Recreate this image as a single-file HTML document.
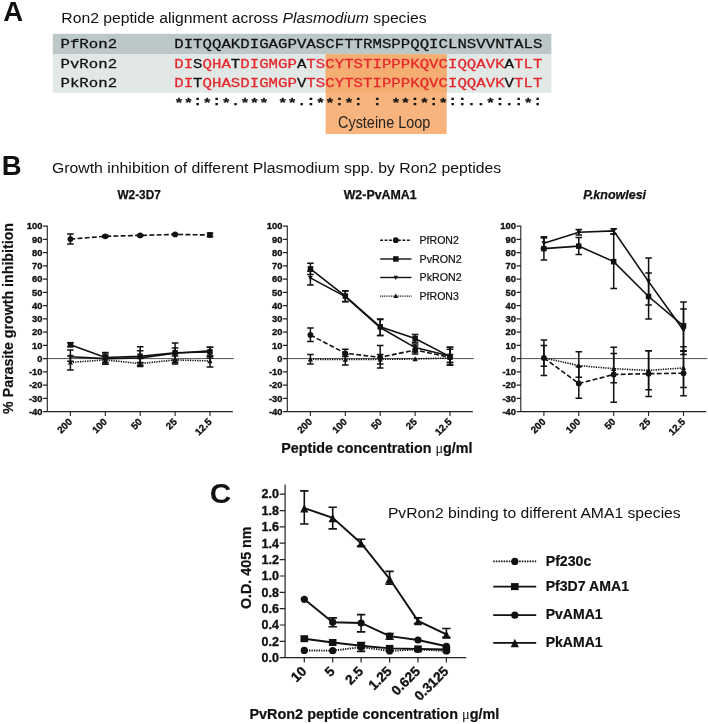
<!DOCTYPE html>
<html lang="en">
<head>
<meta charset="utf-8">
<title>Ron2 peptide figure</title>
<style>
html,body{margin:0;padding:0;background:#fff;}
body{width:708px;height:724px;overflow:hidden;}
svg{display:block;}
text{font-family:"Liberation Sans",Arial,Helvetica,sans-serif;fill:#111;}
.pl{font-size:27.5px;font-weight:bold;}
.ti{font-size:15.5px;}
.tc{font-size:15.4px;}
.mono{font-family:"Liberation Mono","Courier New",monospace;font-size:15.73px;stroke-width:0.3px;}
.cons{font-weight:bold;}
.cl{font-size:14.6px;fill:#222;}
.tk{font-size:9.4px;font-weight:bold;stroke:#111;stroke-width:0.35px;}
.tkc{font-size:12.5px;font-weight:bold;stroke:#111;stroke-width:0.35px;}
.ct{font-size:12.2px;font-weight:bold;stroke:#111;stroke-width:0.25px;}
.lg{font-size:10.5px;stroke:#111;stroke-width:0.2px;}
.lgc{font-size:14px;font-weight:bold;stroke:#111;stroke-width:0.2px;}
.ayt{font-size:14.2px;font-weight:bold;stroke:#111;stroke-width:0.2px;}
.cyt{font-size:14.2px;font-weight:bold;stroke:#111;stroke-width:0.2px;}
.axt{font-size:13.9px;font-weight:bold;stroke:#111;stroke-width:0.2px;}
.mu{font-family:"Liberation Serif","Times New Roman",serif;font-weight:normal;stroke:none;}
</style>
</head>
<body>
<svg width="708" height="724" viewBox="0 0 708 724">
<rect width="708" height="724" fill="#fff"/>
<text x="3.3" y="20.8" class="pl">A</text>
<text x="61.3" y="22.8" class="ti" textLength="365.3" lengthAdjust="spacingAndGlyphs">Ron2 peptide alignment across <tspan font-style="italic">Plasmodium</tspan> species</text>
<rect x="52.8" y="33.8" width="498.6" height="20.6" fill="#bcc8c8"/>
<rect x="52.8" y="54.4" width="498.6" height="38.3" fill="#e2e8e6"/>
<rect x="325.7" y="54.4" width="121" height="79.6" fill="#f8b47c"/>
<rect x="325.7" y="54.4" width="121" height="38.3" fill="#f5ad72"/>
<text transform="translate(60.5 48.2) scale(1 0.862)" class="mono" fill="#111" stroke="#111">PfRon2</text>
<text transform="translate(60.5 68.2) scale(1 0.862)" class="mono" fill="#111" stroke="#111">PvRon2</text>
<text transform="translate(60.5 86.6) scale(1 0.862)" class="mono" fill="#111" stroke="#111">PkRon2</text>
<text transform="translate(174.2 48.2) scale(1 0.862)" class="mono" textLength="368.2" lengthAdjust="spacing" xml:space="preserve"><tspan fill="#111" stroke="#111">DITQQAKDIGAGPVASCFTTRMSPPQQICLNSVVNTALS</tspan></text>
<text transform="translate(174.2 68.2) scale(1 0.862)" class="mono" textLength="368.2" lengthAdjust="spacing" xml:space="preserve"><tspan fill="#e6262b" stroke="#e6262b">DI</tspan><tspan fill="#111" stroke="#111">S</tspan><tspan fill="#e6262b" stroke="#e6262b">QHA</tspan><tspan fill="#111" stroke="#111">T</tspan><tspan fill="#e6262b" stroke="#e6262b">DIGMGP</tspan><tspan fill="#111" stroke="#111">A</tspan><tspan fill="#e6262b" stroke="#e6262b">TSCYTSTIPPPKQVCIQQAVK</tspan><tspan fill="#111" stroke="#111">A</tspan><tspan fill="#e6262b" stroke="#e6262b">TLT</tspan></text>
<text transform="translate(174.2 86.6) scale(1 0.862)" class="mono" textLength="368.2" lengthAdjust="spacing" xml:space="preserve"><tspan fill="#e6262b" stroke="#e6262b">DI</tspan><tspan fill="#111" stroke="#111">T</tspan><tspan fill="#e6262b" stroke="#e6262b">QHASDIGMGP</tspan><tspan fill="#111" stroke="#111">V</tspan><tspan fill="#e6262b" stroke="#e6262b">TSCYTSTIPPPKQVCIQQAVK</tspan><tspan fill="#111" stroke="#111">V</tspan><tspan fill="#e6262b" stroke="#e6262b">TLT</tspan></text>
<text transform="translate(174.2 107.0) scale(1 0.862)" class="mono cons" textLength="368.2" lengthAdjust="spacing" xml:space="preserve"><tspan fill="#111" stroke="#111">** * * *** **  ** *    ** * *    *   * </tspan></text>
<text transform="translate(174.2 104.9) scale(1 0.862)" class="mono cons" textLength="368.2" lengthAdjust="spacing" xml:space="preserve"><tspan fill="#111" stroke="#111">  : : .      .:  : : :   : : ::.. :.: :</tspan></text>
<text transform="translate(338 127.5) scale(1 1.07)" class="cl" textLength="92.3" lengthAdjust="spacingAndGlyphs">Cysteine Loop</text>
<text x="1.8" y="175" class="pl">B</text>
<text x="52" y="173.4" class="ti" textLength="449.2" lengthAdjust="spacingAndGlyphs">Growth inhibition of different Plasmodium spp. by Ron2 peptides</text>
<path d="M47.3 225.6V411.6H232.8M43.1 411.6H47.3M43.1 398.4H47.3M43.1 385.1H47.3M43.1 371.9H47.3M43.1 358.6H47.3M43.1 345.4H47.3M43.1 332.1H47.3M43.1 318.9H47.3M43.1 305.6H47.3M43.1 292.4H47.3M43.1 279.1H47.3M43.1 265.9H47.3M43.1 252.6H47.3M43.1 239.4H47.3M43.1 226.1H47.3M70.4 411.6V415.9M105.3 411.6V415.9M140.2 411.6V415.9M175.1 411.6V415.9M210.0 411.6V415.9" fill="none" stroke="#222" stroke-width="1.1"/><path d="M47.3 358.6H233.8" stroke="#222" stroke-width="0.8"/><text x="42.5" y="414.9" class="tk" text-anchor="end">-40</text><text x="42.5" y="401.7" class="tk" text-anchor="end">-30</text><text x="42.5" y="388.4" class="tk" text-anchor="end">-20</text><text x="42.5" y="375.2" class="tk" text-anchor="end">-10</text><text x="42.5" y="361.9" class="tk" text-anchor="end">0</text><text x="42.5" y="348.7" class="tk" text-anchor="end">10</text><text x="42.5" y="335.4" class="tk" text-anchor="end">20</text><text x="42.5" y="322.2" class="tk" text-anchor="end">30</text><text x="42.5" y="308.9" class="tk" text-anchor="end">40</text><text x="42.5" y="295.7" class="tk" text-anchor="end">50</text><text x="42.5" y="282.4" class="tk" text-anchor="end">60</text><text x="42.5" y="269.2" class="tk" text-anchor="end">70</text><text x="42.5" y="255.9" class="tk" text-anchor="end">80</text><text x="42.5" y="242.7" class="tk" text-anchor="end">90</text><text x="42.5" y="229.4" class="tk" text-anchor="end">100</text><text transform="translate(72.8 422.5) rotate(-45)" class="tk" style="font-size:9.8px" text-anchor="end">200</text><text transform="translate(107.7 422.5) rotate(-45)" class="tk" style="font-size:9.8px" text-anchor="end">100</text><text transform="translate(142.6 422.5) rotate(-45)" class="tk" style="font-size:9.8px" text-anchor="end">50</text><text transform="translate(177.5 422.5) rotate(-45)" class="tk" style="font-size:9.8px" text-anchor="end">25</text><text transform="translate(212.4 422.5) rotate(-45)" class="tk" style="font-size:9.8px" text-anchor="end">12.5</text><text x="117.5" y="198.7" class="ct" textLength="43.2" lengthAdjust="spacingAndGlyphs">W2-3D7</text><polyline points="70.4,362.4 105.3,359.9 140.2,363.6 175.1,359.9 210.0,361.0" fill="none" stroke="#111" stroke-width="1.6" stroke-dasharray="1.3 1.1"/><path d="M70.4 356.0V370.0M67.1 356.0H73.7M67.1 370.0H73.7M105.3 356.0V364.3M102.0 356.0H108.6M102.0 364.3H108.6M140.2 358.6V366.6M136.9 358.6H143.5M136.9 366.6H143.5M175.1 356.0V363.9M171.8 356.0H178.4M171.8 363.9H178.4M210.0 356.0V367.1M206.7 356.0H213.3M206.7 367.1H213.3" fill="none" stroke="#111" stroke-width="1.5"/><g fill="#111"><path d="M67.8 364.6L73.0 364.6L70.4 359.7Z"/><path d="M102.7 362.1L107.9 362.1L105.3 357.2Z"/><path d="M137.6 365.8L142.8 365.8L140.2 360.9Z"/><path d="M172.5 362.1L177.7 362.1L175.1 357.2Z"/><path d="M207.4 363.2L212.6 363.2L210.0 358.3Z"/></g><polyline points="70.4,239.1 105.3,236.3 140.2,235.4 175.1,234.4 210.0,235.0" fill="none" stroke="#111" stroke-width="1.6" stroke-dasharray="4.9 2.3"/><path d="M70.4 234.1V244.1M67.1 234.1H73.7M67.1 244.1H73.7M105.3 235.4V237.2M102.0 235.4H108.6M102.0 237.2H108.6M140.2 234.7V236.0M136.9 234.7H143.5M136.9 236.0H143.5M175.1 233.8V235.1M171.8 233.8H178.4M171.8 235.1H178.4M210.0 233.1V236.8M206.7 233.1H213.3M206.7 236.8H213.3" fill="none" stroke="#111" stroke-width="1.5"/><g fill="#111"><circle cx="70.4" cy="239.1" r="2.90"/><circle cx="105.3" cy="236.3" r="2.90"/><circle cx="140.2" cy="235.4" r="2.90"/><circle cx="175.1" cy="234.4" r="2.90"/><circle cx="210.0" cy="235.0" r="2.90"/></g><polyline points="70.4,356.7 105.3,358.6 140.2,357.9 175.1,353.3 210.0,350.9" fill="none" stroke="#111" stroke-width="1.6" /><path d="M70.4 350.0V361.2M67.1 350.0H73.7M67.1 361.2H73.7M105.3 354.0V362.6M102.0 354.0H108.6M102.0 362.6H108.6M140.2 350.7V362.6M136.9 350.7H143.5M136.9 362.6H143.5M175.1 348.0V359.9M171.8 348.0H178.4M171.8 359.9H178.4M210.0 347.3V356.0M206.7 347.3H213.3M206.7 356.0H213.3" fill="none" stroke="#111" stroke-width="1.5"/><g fill="#111"><path d="M68.0 354.7L72.8 354.7L70.4 359.3Z"/><path d="M102.9 356.6L107.7 356.6L105.3 361.2Z"/><path d="M137.8 355.9L142.6 355.9L140.2 360.5Z"/><path d="M172.7 351.3L177.5 351.3L175.1 355.9Z"/><path d="M207.6 348.9L212.4 348.9L210.0 353.5Z"/></g><polyline points="70.4,344.7 105.3,357.5 140.2,356.2 175.1,352.8 210.0,352.0" fill="none" stroke="#111" stroke-width="1.6" /><path d="M70.4 342.7V346.7M67.1 342.7H73.7M67.1 346.7H73.7M105.3 352.6V364.3M102.0 352.6H108.6M102.0 364.3H108.6M140.2 346.7V365.2M136.9 346.7H143.5M136.9 365.2H143.5M175.1 343.1V362.6M171.8 343.1H178.4M171.8 362.6H178.4M210.0 347.3V357.9M206.7 347.3H213.3M206.7 357.9H213.3" fill="none" stroke="#111" stroke-width="1.5"/><g fill="#111"><rect x="67.7" y="341.9" width="5.5" height="5.5"/><rect x="102.6" y="354.8" width="5.5" height="5.5"/><rect x="137.4" y="353.5" width="5.5" height="5.5"/><rect x="172.3" y="350.0" width="5.5" height="5.5"/><rect x="207.2" y="349.2" width="5.5" height="5.5"/></g>
<path d="M287.3 225.6V411.6H472.8M283.1 411.6H287.3M283.1 398.4H287.3M283.1 385.1H287.3M283.1 371.9H287.3M283.1 358.6H287.3M283.1 345.4H287.3M283.1 332.1H287.3M283.1 318.9H287.3M283.1 305.6H287.3M283.1 292.4H287.3M283.1 279.1H287.3M283.1 265.9H287.3M283.1 252.6H287.3M283.1 239.4H287.3M283.1 226.1H287.3M310.4 411.6V415.9M345.3 411.6V415.9M380.2 411.6V415.9M415.1 411.6V415.9M450.0 411.6V415.9" fill="none" stroke="#222" stroke-width="1.1"/><path d="M287.3 358.6H473.8" stroke="#222" stroke-width="0.8"/><text x="282.5" y="414.9" class="tk" text-anchor="end">-40</text><text x="282.5" y="401.7" class="tk" text-anchor="end">-30</text><text x="282.5" y="388.4" class="tk" text-anchor="end">-20</text><text x="282.5" y="375.2" class="tk" text-anchor="end">-10</text><text x="282.5" y="361.9" class="tk" text-anchor="end">0</text><text x="282.5" y="348.7" class="tk" text-anchor="end">10</text><text x="282.5" y="335.4" class="tk" text-anchor="end">20</text><text x="282.5" y="322.2" class="tk" text-anchor="end">30</text><text x="282.5" y="308.9" class="tk" text-anchor="end">40</text><text x="282.5" y="295.7" class="tk" text-anchor="end">50</text><text x="282.5" y="282.4" class="tk" text-anchor="end">60</text><text x="282.5" y="269.2" class="tk" text-anchor="end">70</text><text x="282.5" y="255.9" class="tk" text-anchor="end">80</text><text x="282.5" y="242.7" class="tk" text-anchor="end">90</text><text x="282.5" y="229.4" class="tk" text-anchor="end">100</text><text transform="translate(312.8 422.5) rotate(-45)" class="tk" style="font-size:9.8px" text-anchor="end">200</text><text transform="translate(347.7 422.5) rotate(-45)" class="tk" style="font-size:9.8px" text-anchor="end">100</text><text transform="translate(382.6 422.5) rotate(-45)" class="tk" style="font-size:9.8px" text-anchor="end">50</text><text transform="translate(417.5 422.5) rotate(-45)" class="tk" style="font-size:9.8px" text-anchor="end">25</text><text transform="translate(452.4 422.5) rotate(-45)" class="tk" style="font-size:9.8px" text-anchor="end">12.5</text><text x="343.7" y="198.7" class="ct" textLength="72.9" lengthAdjust="spacingAndGlyphs">W2-PvAMA1</text><polyline points="310.4,359.3 345.3,359.5 380.2,359.3 415.1,359.0 450.0,357.9" fill="none" stroke="#111" stroke-width="1.6" stroke-dasharray="1.3 1.1"/><path d="M310.4 354.4V363.9M307.1 354.4H313.7M307.1 363.9H313.7M345.3 354.6V365.1M342.0 354.6H348.6M342.0 365.1H348.6M380.2 354.6V363.9M376.9 354.6H383.5M376.9 363.9H383.5M450.0 354.6V362.6M446.7 354.6H453.3M446.7 362.6H453.3" fill="none" stroke="#111" stroke-width="1.5"/><g fill="#111"><path d="M307.8 361.5L313.0 361.5L310.4 356.6Z"/><path d="M342.7 361.7L347.9 361.7L345.3 356.8Z"/><path d="M377.6 361.5L382.8 361.5L380.2 356.6Z"/><path d="M412.5 361.2L417.7 361.2L415.1 356.3Z"/><path d="M447.4 360.1L452.6 360.1L450.0 355.2Z"/></g><polyline points="310.4,335.0 345.3,353.3 380.2,357.3 415.1,350.0 450.0,357.3" fill="none" stroke="#111" stroke-width="1.6" stroke-dasharray="4.9 2.3"/><path d="M310.4 327.9V341.4M307.1 327.9H313.7M307.1 341.4H313.7M345.3 349.3V356.6M342.0 349.3H348.6M342.0 356.6H348.6M380.2 345.4V367.9M376.9 345.4H383.5M376.9 367.9H383.5M415.1 346.0V354.0M411.8 346.0H418.4M411.8 354.0H418.4M450.0 347.2V365.0M446.7 347.2H453.3M446.7 365.0H453.3" fill="none" stroke="#111" stroke-width="1.5"/><g fill="#111"><circle cx="310.4" cy="335.0" r="2.90"/><circle cx="345.3" cy="353.3" r="2.90"/><circle cx="380.2" cy="357.3" r="2.90"/><circle cx="415.1" cy="350.0" r="2.90"/><circle cx="450.0" cy="357.3" r="2.90"/></g><polyline points="310.4,277.9 345.3,296.6 380.2,327.5 415.1,347.6 450.0,356.0" fill="none" stroke="#111" stroke-width="1.6" /><path d="M310.4 271.2V284.9M307.1 271.2H313.7M307.1 284.9H313.7M345.3 291.0V301.6M342.0 291.0H348.6M342.0 301.6H348.6M380.2 319.5V335.5M376.9 319.5H383.5M376.9 335.5H383.5M415.1 344.0V352.0M411.8 344.0H418.4M411.8 352.0H418.4M450.0 349.3V362.6M446.7 349.3H453.3M446.7 362.6H453.3" fill="none" stroke="#111" stroke-width="1.5"/><g fill="#111"><path d="M308.0 275.9L312.8 275.9L310.4 280.5Z"/><path d="M342.9 294.6L347.7 294.6L345.3 299.2Z"/><path d="M377.8 325.5L382.6 325.5L380.2 330.1Z"/><path d="M412.7 345.6L417.5 345.6L415.1 350.2Z"/><path d="M447.6 354.0L452.4 354.0L450.0 358.6Z"/></g><polyline points="310.4,268.9 345.3,296.1 380.2,326.8 415.1,338.5 450.0,356.6" fill="none" stroke="#111" stroke-width="1.6" /><path d="M310.4 263.2V274.5M307.1 263.2H313.7M307.1 274.5H313.7M345.3 290.8V301.8M342.0 290.8H348.6M342.0 301.8H348.6M380.2 319.0V335.5M376.9 319.0H383.5M376.9 335.5H383.5M415.1 334.5V342.2M411.8 334.5H418.4M411.8 342.2H418.4M450.0 347.2V365.0M446.7 347.2H453.3M446.7 365.0H453.3" fill="none" stroke="#111" stroke-width="1.5"/><g fill="#111"><rect x="307.7" y="266.1" width="5.5" height="5.5"/><rect x="342.6" y="293.3" width="5.5" height="5.5"/><rect x="377.5" y="324.1" width="5.5" height="5.5"/><rect x="412.4" y="335.7" width="5.5" height="5.5"/><rect x="447.2" y="353.9" width="5.5" height="5.5"/></g>
<path d="M520.8 225.6V411.6H706.3M516.6 411.6H520.8M516.6 398.4H520.8M516.6 385.1H520.8M516.6 371.9H520.8M516.6 358.6H520.8M516.6 345.4H520.8M516.6 332.1H520.8M516.6 318.9H520.8M516.6 305.6H520.8M516.6 292.4H520.8M516.6 279.1H520.8M516.6 265.9H520.8M516.6 252.6H520.8M516.6 239.4H520.8M516.6 226.1H520.8M543.9 411.6V415.9M578.8 411.6V415.9M613.7 411.6V415.9M648.6 411.6V415.9M683.5 411.6V415.9" fill="none" stroke="#222" stroke-width="1.1"/><path d="M520.8 358.6H707.3" stroke="#222" stroke-width="0.8"/><text x="516.0" y="414.9" class="tk" text-anchor="end">-40</text><text x="516.0" y="401.7" class="tk" text-anchor="end">-30</text><text x="516.0" y="388.4" class="tk" text-anchor="end">-20</text><text x="516.0" y="375.2" class="tk" text-anchor="end">-10</text><text x="516.0" y="361.9" class="tk" text-anchor="end">0</text><text x="516.0" y="348.7" class="tk" text-anchor="end">10</text><text x="516.0" y="335.4" class="tk" text-anchor="end">20</text><text x="516.0" y="322.2" class="tk" text-anchor="end">30</text><text x="516.0" y="308.9" class="tk" text-anchor="end">40</text><text x="516.0" y="295.7" class="tk" text-anchor="end">50</text><text x="516.0" y="282.4" class="tk" text-anchor="end">60</text><text x="516.0" y="269.2" class="tk" text-anchor="end">70</text><text x="516.0" y="255.9" class="tk" text-anchor="end">80</text><text x="516.0" y="242.7" class="tk" text-anchor="end">90</text><text x="516.0" y="229.4" class="tk" text-anchor="end">100</text><text transform="translate(546.3 422.5) rotate(-45)" class="tk" style="font-size:9.8px" text-anchor="end">200</text><text transform="translate(581.2 422.5) rotate(-45)" class="tk" style="font-size:9.8px" text-anchor="end">100</text><text transform="translate(616.1 422.5) rotate(-45)" class="tk" style="font-size:9.8px" text-anchor="end">50</text><text transform="translate(651.0 422.5) rotate(-45)" class="tk" style="font-size:9.8px" text-anchor="end">25</text><text transform="translate(685.9 422.5) rotate(-45)" class="tk" style="font-size:9.8px" text-anchor="end">12.5</text><text x="583.2" y="198.7" class="ct" font-style="italic" textLength="62.9" lengthAdjust="spacingAndGlyphs">P.knowlesi</text><polyline points="543.9,357.9 578.8,365.6 613.7,368.7 648.6,370.4 683.5,367.9" fill="none" stroke="#111" stroke-width="1.6" stroke-dasharray="1.3 1.1"/><path d="M543.9 345.4V366.2M540.6 345.4H547.2M540.6 366.2H547.2M578.8 351.7V377.2M575.5 351.7H582.1M575.5 377.2H582.1M613.7 353.4V382.7M610.4 353.4H617.0M610.4 382.7H617.0M648.6 350.7V389.7M645.3 350.7H651.9M645.3 389.7H651.9M683.5 350.7V387.6M680.2 350.7H686.8M680.2 387.6H686.8" fill="none" stroke="#111" stroke-width="1.5"/><g fill="#111"><path d="M541.3 360.1L546.5 360.1L543.9 355.2Z"/><path d="M576.2 367.8L581.4 367.8L578.8 362.9Z"/><path d="M611.1 370.9L616.3 370.9L613.7 366.0Z"/><path d="M646.0 372.6L651.2 372.6L648.6 367.7Z"/><path d="M680.9 370.1L686.1 370.1L683.5 365.2Z"/></g><polyline points="543.9,357.9 578.8,383.5 613.7,374.5 648.6,373.7 683.5,373.2" fill="none" stroke="#111" stroke-width="1.6" stroke-dasharray="4.9 2.3"/><path d="M543.9 340.1V375.4M540.6 340.1H547.2M540.6 375.4H547.2M578.8 366.6V398.2M575.5 366.6H582.1M575.5 398.2H582.1M613.7 347.2V402.3M610.4 347.2H617.0M610.4 402.3H617.0M648.6 350.7V396.5M645.3 350.7H651.9M645.3 396.5H651.9M683.5 346.7V395.7M680.2 346.7H686.8M680.2 395.7H686.8" fill="none" stroke="#111" stroke-width="1.5"/><g fill="#111"><circle cx="543.9" cy="357.9" r="2.90"/><circle cx="578.8" cy="383.5" r="2.90"/><circle cx="613.7" cy="374.5" r="2.90"/><circle cx="648.6" cy="373.7" r="2.90"/><circle cx="683.5" cy="373.2" r="2.90"/></g><polyline points="543.9,243.2 578.8,232.3 613.7,230.9 648.6,281.6 683.5,330.2" fill="none" stroke="#111" stroke-width="1.6" /><path d="M543.9 236.8V248.6M540.6 236.8H547.2M540.6 248.6H547.2M578.8 229.5V235.1M575.5 229.5H582.1M575.5 235.1H582.1M613.7 228.8V234.1M610.4 228.8H617.0M610.4 234.1H617.0M648.6 257.9V304.9M645.3 257.9H651.9M645.3 304.9H651.9M683.5 309.0V354.6M680.2 309.0H686.8M680.2 354.6H686.8" fill="none" stroke="#111" stroke-width="1.5"/><g fill="#111"><path d="M541.5 241.2L546.3 241.2L543.9 245.8Z"/><path d="M576.4 230.3L581.2 230.3L578.8 234.9Z"/><path d="M611.3 228.9L616.1 228.9L613.7 233.5Z"/><path d="M646.2 279.6L651.0 279.6L648.6 284.2Z"/><path d="M681.1 328.2L685.9 328.2L683.5 332.8Z"/></g><polyline points="543.9,248.6 578.8,246.1 613.7,261.6 648.6,296.5 683.5,325.9" fill="none" stroke="#111" stroke-width="1.6" /><path d="M543.9 238.0V260.0M540.6 238.0H547.2M540.6 260.0H547.2M578.8 237.6V254.6M575.5 237.6H582.1M575.5 254.6H582.1M613.7 234.1V288.4M610.4 234.1H617.0M610.4 288.4H617.0M648.6 272.9V319.1M645.3 272.9H651.9M645.3 319.1H651.9M683.5 301.9V351.3M680.2 301.9H686.8M680.2 351.3H686.8" fill="none" stroke="#111" stroke-width="1.5"/><g fill="#111"><rect x="541.1" y="245.9" width="5.5" height="5.5"/><rect x="576.0" y="243.4" width="5.5" height="5.5"/><rect x="610.9" y="258.9" width="5.5" height="5.5"/><rect x="645.8" y="293.7" width="5.5" height="5.5"/><rect x="680.8" y="323.1" width="5.5" height="5.5"/></g>
<path d="M380.2 240.2H411.5" stroke="#111" stroke-width="1.4" stroke-dasharray="2.8 1.65"/><g fill="#111"><circle cx="395.8" cy="240.2" r="2.90"/></g><text x="419.6" y="243.8" class="lg" textLength="39.2" lengthAdjust="spacingAndGlyphs">PfRON2</text><path d="M380.2 259H411.5" stroke="#111" stroke-width="1.4" /><g fill="#111"><rect x="393.1" y="256.2" width="5.5" height="5.5"/></g><text x="419.6" y="262.6" class="lg" textLength="42.1" lengthAdjust="spacingAndGlyphs">PvRON2</text><path d="M380.2 277.5H411.5" stroke="#111" stroke-width="1.4" /><g fill="#111"><path d="M393.6 275.7L398.0 275.7L395.8 279.9Z"/></g><text x="419.6" y="281.1" class="lg" textLength="42.1" lengthAdjust="spacingAndGlyphs">PkRON2</text><path d="M380.2 296.1H411.5" stroke="#111" stroke-width="1.4" stroke-dasharray="1 0.8"/><g fill="#111"><path d="M393.4 298.1L398.2 298.1L395.8 293.6Z"/></g><text x="419.6" y="299.7" class="lg" textLength="39.2" lengthAdjust="spacingAndGlyphs">PfRON3</text>
<text transform="translate(13 413.9) rotate(-90)" class="ayt" textLength="190.9" lengthAdjust="spacingAndGlyphs">% Parasite growth inhibition</text>
<text x="281.2" y="453.3" class="axt" textLength="191.3" lengthAdjust="spacingAndGlyphs">Peptide concentration <tspan class="mu">μ</tspan>g/ml</text>
<text transform="translate(209.7 502.7) scale(1.08 1.02)" class="pl">C</text>
<text x="387.9" y="518.3" class="tc" textLength="292.8" lengthAdjust="spacingAndGlyphs">PvRon2 binding to different AMA1 species</text>
<path d="M285.1 484.4V657.7H466.2M279.7 657.7H285.1M279.7 641.4H285.1M279.7 625.0H285.1M279.7 608.7H285.1M279.7 592.3H285.1M279.7 576.0H285.1M279.7 559.6H285.1M279.7 543.2H285.1M279.7 526.9H285.1M279.7 510.6H285.1M279.7 494.2H285.1M304.3 657.7V662.5M332.7 657.7V662.5M361.1 657.7V662.5M389.6 657.7V662.5M418.0 657.7V662.5M446.4 657.7V662.5" fill="none" stroke="#222" stroke-width="1.2"/>
<text x="278.9" y="661.9" class="tkc" text-anchor="end">0.0</text>
<text x="278.9" y="645.6" class="tkc" text-anchor="end">0.2</text>
<text x="278.9" y="629.2" class="tkc" text-anchor="end">0.4</text>
<text x="278.9" y="612.9" class="tkc" text-anchor="end">0.6</text>
<text x="278.9" y="596.5" class="tkc" text-anchor="end">0.8</text>
<text x="278.9" y="580.2" class="tkc" text-anchor="end">1.0</text>
<text x="278.9" y="563.8" class="tkc" text-anchor="end">1.2</text>
<text x="278.9" y="547.5" class="tkc" text-anchor="end">1.4</text>
<text x="278.9" y="531.1" class="tkc" text-anchor="end">1.6</text>
<text x="278.9" y="514.8" class="tkc" text-anchor="end">1.8</text>
<text x="278.9" y="498.4" class="tkc" text-anchor="end">2.0</text>
<text transform="translate(307.3 672.1) rotate(-45)" class="tkc" style="font-size:13.6px" text-anchor="end">10</text>
<text transform="translate(335.7 672.1) rotate(-45)" class="tkc" style="font-size:13.6px" text-anchor="end">5</text>
<text transform="translate(364.1 672.1) rotate(-45)" class="tkc" style="font-size:13.6px" text-anchor="end">2.5</text>
<text transform="translate(392.6 672.1) rotate(-45)" class="tkc" style="font-size:13.6px" text-anchor="end">1.25</text>
<text transform="translate(421.0 672.1) rotate(-45)" class="tkc" style="font-size:13.6px" text-anchor="end">0.625</text>
<text transform="translate(449.4 672.1) rotate(-45)" class="tkc" style="font-size:13.6px" text-anchor="end">0.3125</text>
<polyline points="304.3,650.4 332.7,650.7 361.1,647.1 389.6,650.9 418.0,649.5 446.4,650.9" fill="none" stroke="#111" stroke-width="1.9" stroke-dasharray="1.3 1.1"/><g fill="#111"><circle cx="304.3" cy="650.4" r="3.6"/><circle cx="332.7" cy="650.7" r="3.6"/><circle cx="361.1" cy="647.1" r="3.6"/><circle cx="389.6" cy="650.9" r="3.6"/><circle cx="418.0" cy="649.5" r="3.6"/><circle cx="446.4" cy="650.9" r="3.6"/></g>
<polyline points="304.3,638.7 332.7,642.5 361.1,645.8 389.6,648.4 418.0,648.9 446.4,649.5" fill="none" stroke="#111" stroke-width="1.9" /><path d="M361.1 642.5V651.4M356.9 642.5H365.3M356.9 651.4H365.3" fill="none" stroke="#111" stroke-width="1.6"/><g fill="#111"><rect x="300.5" y="635.2" width="7.6" height="7"/><rect x="328.9" y="639.0" width="7.6" height="7"/><rect x="357.3" y="642.3" width="7.6" height="7"/><rect x="385.8" y="644.9" width="7.6" height="7"/><rect x="414.2" y="645.4" width="7.6" height="7"/><rect x="442.6" y="646.0" width="7.6" height="7"/></g>
<polyline points="304.3,599.3 332.7,622.2 361.1,623.0 389.6,636.2 418.0,640.0 446.4,646.3" fill="none" stroke="#111" stroke-width="1.9" /><path d="M332.7 617.9V626.8M328.5 617.9H336.9M328.5 626.8H336.9M361.1 614.6V631.9M356.9 614.6H365.3M356.9 631.9H365.3M389.6 633.6V639.2M385.4 633.6H393.8M385.4 639.2H393.8" fill="none" stroke="#111" stroke-width="1.6"/><g fill="#111"><circle cx="304.3" cy="599.3" r="3.6"/><circle cx="332.7" cy="622.2" r="3.6"/><circle cx="361.1" cy="623.0" r="3.6"/><circle cx="389.6" cy="636.2" r="3.6"/><circle cx="418.0" cy="640.0" r="3.6"/><circle cx="446.4" cy="646.3" r="3.6"/></g>
<polyline points="304.3,508.1 332.7,517.8 361.1,543.2 389.6,578.8 418.0,620.9 446.4,634.4" fill="none" stroke="#111" stroke-width="1.9" /><path d="M304.3 490.9V524.0M300.1 490.9H308.5M300.1 524.0H308.5M332.7 507.3V528.9M328.5 507.3H336.9M328.5 528.9H336.9M361.1 539.2V546.1M356.9 539.2H365.3M356.9 546.1H365.3M389.6 571.4V584.1M385.4 571.4H393.8M385.4 584.1H393.8M418.0 617.9V623.5M413.8 617.9H422.2M413.8 623.5H422.2M446.4 628.5V637.4M442.2 628.5H450.6M442.2 637.4H450.6" fill="none" stroke="#111" stroke-width="1.6"/><g fill="#111"><path d="M300.2 512.5L308.4 512.5L304.3 504.1Z"/><path d="M328.6 522.2L336.8 522.2L332.7 513.8Z"/><path d="M357.0 547.6L365.2 547.6L361.1 539.2Z"/><path d="M385.5 583.2L393.7 583.2L389.6 574.8Z"/><path d="M413.9 625.3L422.1 625.3L418.0 616.9Z"/><path d="M442.3 638.8L450.5 638.8L446.4 630.4Z"/></g>
<path d="M493.2 561.4H536.2" stroke="#111" stroke-width="1.8" stroke-dasharray="1.5 1.1"/><g fill="#111"><circle cx="514.8" cy="561.4" r="3.6"/></g><text x="545.7" y="565.6" class="lgc" textLength="45.7" lengthAdjust="spacingAndGlyphs">Pf230c</text><path d="M493.2 586.6H536.2" stroke="#111" stroke-width="1.8" /><g fill="#111"><rect x="511.0" y="583.1" width="7.6" height="7"/></g><text x="545.7" y="590.8" class="lgc" textLength="83.3" lengthAdjust="spacingAndGlyphs">Pf3D7 AMA1</text><path d="M493.2 615.2H536.2" stroke="#111" stroke-width="1.8" /><g fill="#111"><circle cx="514.8" cy="615.2" r="3.6"/></g><text x="545.7" y="619.4" class="lgc" textLength="57" lengthAdjust="spacingAndGlyphs">PvAMA1</text><path d="M493.2 642.8H536.2" stroke="#111" stroke-width="1.8" /><g fill="#111"><path d="M510.7 647.2L518.9 647.2L514.8 638.8Z"/></g><text x="545.7" y="647.0" class="lgc" textLength="57" lengthAdjust="spacingAndGlyphs">PkAMA1</text>
<text transform="translate(250.6 609) rotate(-90) scale(1 1.07)" class="cyt" textLength="82.4" lengthAdjust="spacingAndGlyphs">O.D. 405 nm</text>
<text x="249.4" y="718.8" class="axt" textLength="250" lengthAdjust="spacingAndGlyphs">PvRon2 peptide concentration <tspan class="mu">μ</tspan>g/ml</text>
</svg>
</body>
</html>
